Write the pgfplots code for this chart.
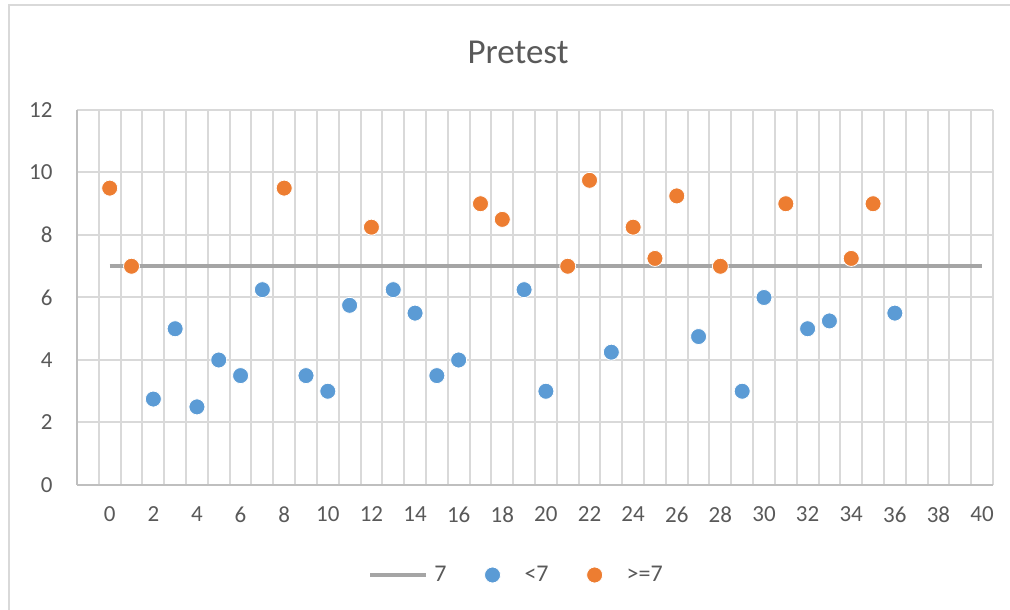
\documentclass[border=0pt]{standalone}
\usepackage{pgfplots}
\pgfplotsset{compat=1.18}
\usepackage{fontspec}
\setmainfont{Carlito}
\definecolor{cblue}{HTML}{5B9BD5}
\definecolor{corange}{HTML}{ED7D31}
\definecolor{cgray}{HTML}{A5A5A5}
\definecolor{cgrid}{HTML}{D9D9D9}
\definecolor{caxis}{HTML}{BFBFBF}
\definecolor{ctext}{HTML}{595959}
\pgfplotsset{
  mylineleg/.style={legend image code/.code={\path[draw=none, fill=none] (0pt,0pt) -- (62pt,0pt); \draw[##1] (0pt,0pt) -- (56pt,0pt);}},
  mymarkleg/.style={legend image code/.code={\path[draw=none, fill=none] (0pt,0pt) -- (38pt,0pt); \draw[##1] plot coordinates {(8pt,0pt)};}},
}
\begin{document}
\begin{tikzpicture}[x=1pt,y=1pt]
\useasboundingbox (0,0) rectangle (1010,610);
\draw[cgrid, line width=2pt] (9,0) -- (9,605) -- (1010,605);
\node[anchor=base, text=ctext, font=\fontsize{35}{40}\selectfont] at (518,546) {Pretest};
\begin{axis}[
  at={(77pt,125pt)}, anchor=south west,
  scale only axis, width=916pt, height=375pt,
  xmin=-1.5, xmax=40.5, ymin=0, ymax=12,
  xtick={0,2,...,40},
  minor xtick={-0.5,0.5,...,40.5},
  ytick={0,2,...,12},
  xminorgrids=true, ymajorgrids=true, xmajorgrids=false,
  minor grid style={cgrid, line width=2pt},
  major grid style={cgrid, line width=2pt},
  axis lines=left,
  axis line style={-, caxis, line width=2pt},
  major tick length=0pt, minor tick length=0pt,
  tick label style={text=ctext, font=\fontsize{23}{26}\selectfont},
  /pgf/number format/assume math mode=true,
  xticklabel style={yshift=-18pt},
  yticklabel style={xshift=-21pt},
  legend columns=3,
  legend style={at={(0.480,-0.24)}, anchor=center, draw=none, fill=none,
    font=\fontsize{24}{26}\selectfont, text=ctext,
    /tikz/every even column/.append style={column sep=36pt}},
  legend cell align=left,
  clip=false,
]
\addplot[cgray, line width=3.5pt, mylineleg]
  coordinates {(0,7) (40,7)};
\addlegendentry{7}
\addplot[only marks, mark=*, mark size=8pt, mark options={fill=cblue, draw=white, line width=0.8pt}, mymarkleg]
  coordinates {
(2,2.75) (3,5) (4,2.5) (5,4) (6,3.5) (7,6.25) (9,3.5) (10,3) (11,5.75)
(13,6.25) (14,5.5) (15,3.5) (16,4) (19,6.25) (20,3) (23,4.25) (27,4.75)
(29,3) (30,6) (32,5) (33,5.25) (36,5.5)
};
\addlegendentry{<7}
\addplot[only marks, mark=*, mark size=8pt, mark options={fill=corange, draw=white, line width=0.8pt}, mymarkleg]
  coordinates {
(0,9.5) (1,7) (8,9.5) (12,8.25) (17,9) (18,8.5) (21,7) (22,9.75) (24,8.25)
(25,7.25) (26,9.25) (28,7) (31,9) (34,7.25) (35,9)
};
\addlegendentry{>=7}
\end{axis}
\end{tikzpicture}
\end{document}
